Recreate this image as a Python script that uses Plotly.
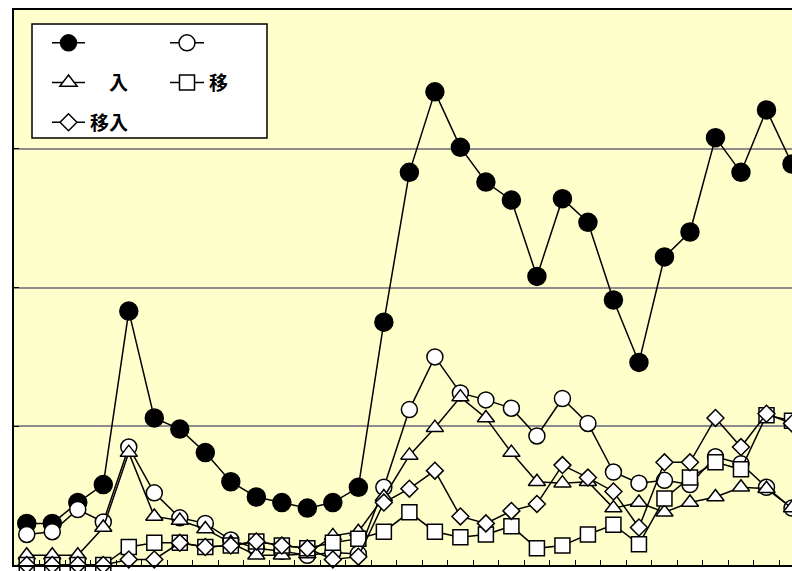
import plotly.graph_objects as go

periods = list(range(31))

names = ["", "", "\u3000入", "移", "移入"]

s_filled = [30, 30, 45, 58, 183, 106, 98, 81, 60, 49, 45, 41, 45, 56, 175, 283, 341, 301, 276, 263,
            208, 264, 247, 191, 146, 222, 240, 308, 283, 328, 289]
s_open = [22, 24, 40, 31, 85, 52, 34, 30, 18, 12, 10, 7, 9, 8, 56, 112, 150, 124, 119, 113,
          93, 120, 102, 67, 59, 61, 58, 78, 73, 56, 41]
s_tri = [7, 7, 7, 27, 81, 35, 32, 26, 16, 7, 7, 8, 21, 24, 49, 79, 99, 121, 106, 81,
         60, 59, 60, 41, 45, 38, 45, 49, 56, 55, 41]
s_sq = [0, 0, 0, 0, 13, 16, 16, 13, 14, 17, 14, 12, 16, 19, 24, 38, 24, 20, 22, 28,
        12, 14, 22, 29, 15, 48, 63, 74, 69, 108, 104]
s_dia = [0, 0, 0, 0, 4, 4, 16, 13, 14, 17, 14, 12, 4, 6, 45, 55, 68, 35, 30, 39,
         44, 72, 63, 53, 27, 74, 74, 106, 85, 109, 102]

series = [s_filled, s_open, s_tri, s_sq, s_dia]
symbols = ["circle", "circle", "triangle-up", "square", "diamond"]
fills = ["black", "white", "white", "white", "white"]
sizes = [18, 16, 15, 15, 13]
legends = ["legend", "legend2", "legend", "legend2", "legend"]

fig = go.Figure()
for i, (vals, nm) in enumerate(zip(series, names)):
    fig.add_trace(go.Scatter(
        x=periods, y=vals, name=nm, mode="lines+markers",
        line=dict(color="black", width=1.5),
        marker=dict(symbol=symbols[i], size=sizes[i], color=fills[i],
                    line=dict(color="black", width=1.5)),
        cliponaxis=False, legend=legends[i], legendgroup="g%d" % i,
    ))

# body margin removed in the page; plot spans x 14..792, y 10..565 on screen
OFF = 0
W, H = 792, 571
L, T, B, R = 14, 10, 6, 0
pw, ph = W - L - R, H - T - B

def px2paper_x(px):
    return (px - OFF - L) / pw

def px2paper_y(py):
    return (H - B - (py - OFF)) / ph

legend_font = dict(family="Noto Sans CJK JP", size=19, color="black", weight="bold")

fig.add_shape(type="rect", xref="paper", yref="paper",
              x0=px2paper_x(32), x1=px2paper_x(267), y0=px2paper_y(138), y1=px2paper_y(24),
              line=dict(color="black", width=1.5), fillcolor="white", layer="above")

fig.update_layout(
    width=W, height=H,
    margin=dict(l=L, r=R, t=T, b=B),
    paper_bgcolor="white", plot_bgcolor="#FFFFCC",
    xaxis=dict(range=[-0.5, 30.0], showgrid=False, zeroline=False,
               showline=True, linecolor="black", linewidth=2, mirror=True,
               ticks="inside", ticklen=5, tickcolor="black", tickwidth=1,
               tickmode="linear", tick0=-0.5, dtick=1, showticklabels=False),
    yaxis=dict(range=[0, 400], showgrid=True, gridcolor="#8c8c8c", gridwidth=1.5,
               zeroline=False, showline=True, linecolor="black", linewidth=2,
               ticks="inside", ticklen=5, tickcolor="black", tickwidth=1,
               tickmode="linear", tick0=0, dtick=100, showticklabels=False),
    legend=dict(x=px2paper_x(47), y=px2paper_y(24), xanchor="left", yanchor="top",
                bgcolor="rgba(0,0,0,0)", borderwidth=0, font=legend_font,
                tracegroupgap=12, traceorder="grouped", itemwidth=33),
    legend2=dict(x=px2paper_x(165), y=px2paper_y(24), xanchor="left", yanchor="top",
                 bgcolor="rgba(0,0,0,0)", borderwidth=0, font=legend_font,
                 tracegroupgap=12, traceorder="grouped", itemwidth=34),
    showlegend=True,
)

fig.write_html(
    "out.html",
    config={"displayModeBar": False},
    post_script=("document.body.style.margin='0';"
                 "document.documentElement.style.overflow='hidden';"
                 "document.body.style.overflow='hidden';"),
)
